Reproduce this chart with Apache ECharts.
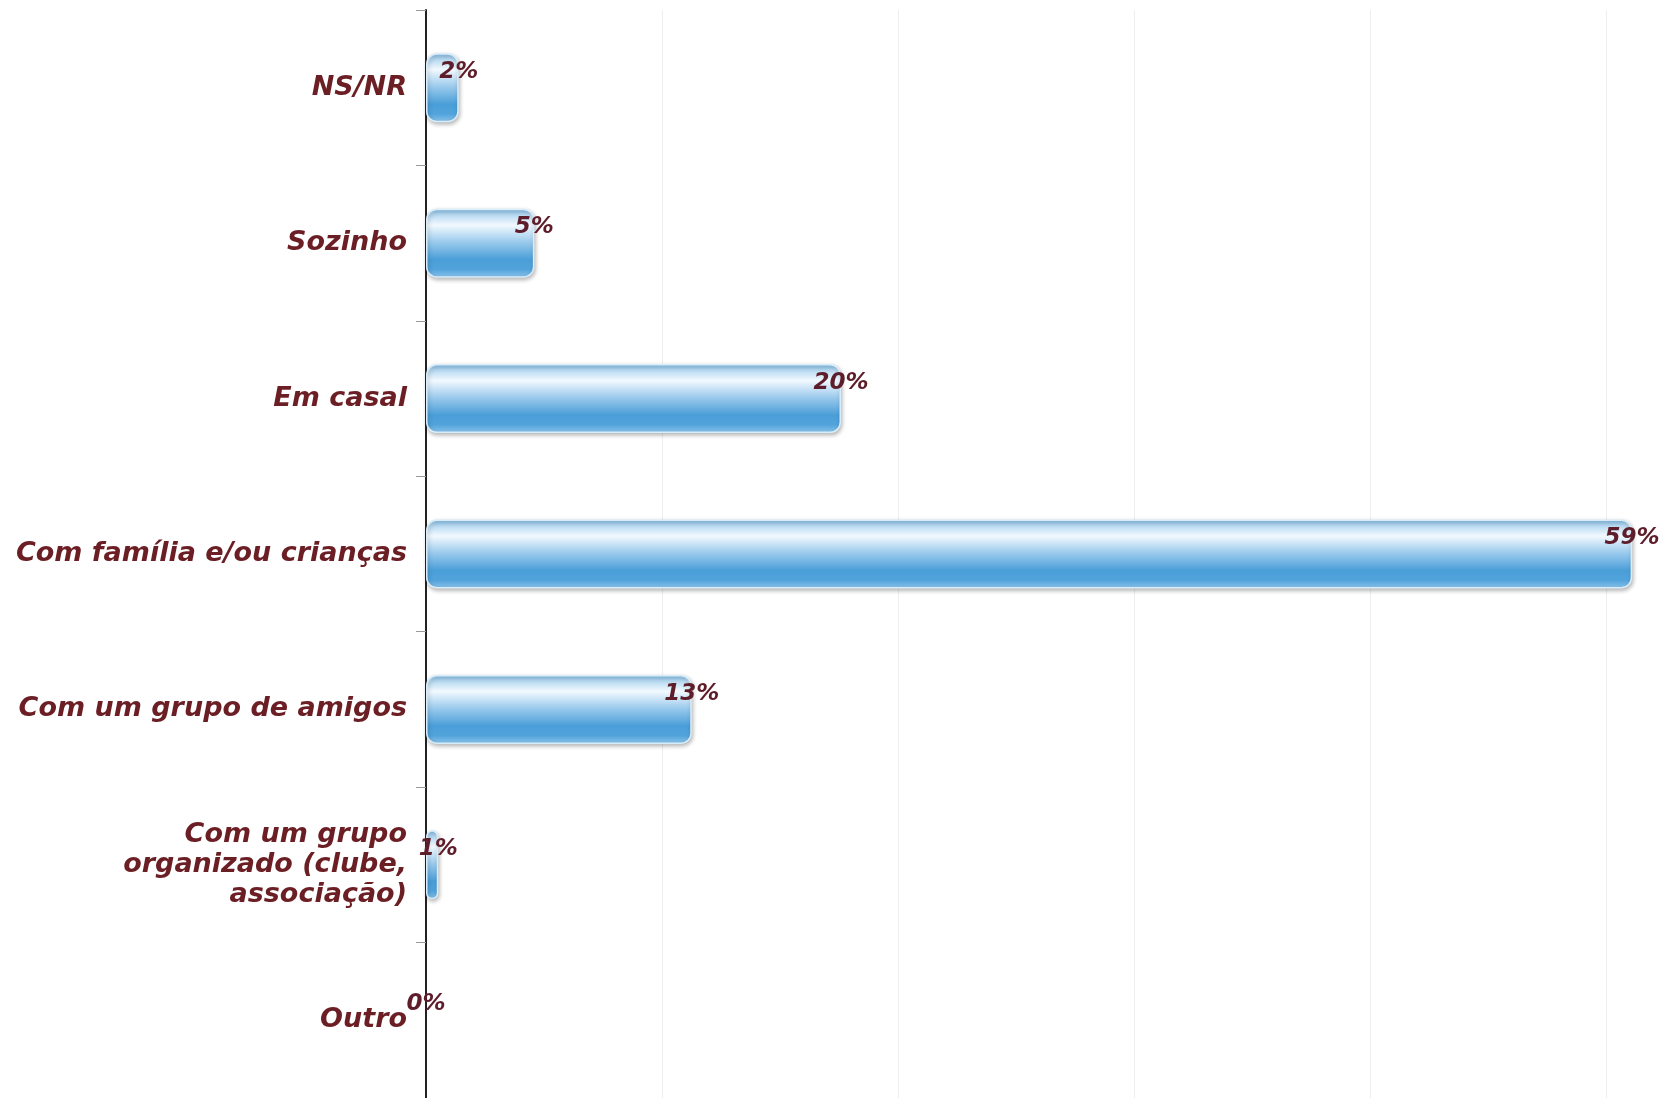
<!DOCTYPE html>
<html>
<head>
<meta charset="utf-8">
<script src="https://cdn.jsdelivr.net/npm/echarts@6/dist/echarts.min.js"></script>
<style>
html,body{margin:0;padding:0;background:#fff;}
#chart{width:1673px;height:1098px;}
</style>
</head>
<body>
<div id="chart"></div>
<script>
var categories = ['NS/NR', 'Sozinho', 'Em casal', 'Com família e/ou crianças', 'Com um grupo de amigos', 'Com um grupo\norganizado (clube,\nassociação)', 'Outro'];
var values = [1.6, 5.3, 20.3, 59, 13, 0.6, 0];
var gridTicks = [0, 11.55, 23.1, 34.65, 46.2, 57.75];

var textColor = '#6b1e24';
var chart = echarts.init(document.getElementById('chart'));
var seriesData = values.map(function (v) {
  return v === 0
    ? { value: v, itemStyle: { color: 'rgba(0,0,0,0)', borderColor: 'rgba(0,0,0,0)', borderWidth: 0, shadowBlur: 0, shadowColor: 'rgba(0,0,0,0)' } }
    : { value: v };
});
chart.setOption({
  backgroundColor: '#ffffff',
  animation: false,
  grid: { left: 426, top: 10, right: 0, height: 1089, containLabel: false },
  xAxis: {
    type: 'value', min: gridTicks[0], max: 61, interval: gridTicks[1] - gridTicks[0],
    axisLine: { show: false }, axisTick: { show: false }, axisLabel: { show: false },
    splitLine: { show: true, lineStyle: { color: '#eeeeee', width: 1 } }
  },
  yAxis: {
    type: 'category', inverse: true, data: categories,
    axisLine: { show: true, lineStyle: { color: '#222222', width: 2 } },
    axisTick: { show: true, length: 10, lineStyle: { color: '#999999', width: 1 } },
    splitLine: { show: false },
    axisLabel: {
      margin: 19, color: textColor, fontFamily: 'DejaVu Sans', fontStyle: 'italic',
      fontWeight: 'bold', fontSize: 27, lineHeight: 30, align: 'right'
    }
  },
  series: [{
    type: 'bar', data: seriesData, barWidth: 69,
    itemStyle: {
      borderRadius: 10,
      borderColor: '#d8ecfa', borderWidth: 1.5,
      shadowColor: 'rgba(0,0,0,0.28)', shadowBlur: 4, shadowOffsetX: 1, shadowOffsetY: 2,
      color: new echarts.graphic.LinearGradient(0, 0, 0, 1, [
        { offset: 0, color: '#7ab5e0' },
        { offset: 0.08, color: '#b4d8f2' },
        { offset: 0.24, color: '#f2f9fe' },
        { offset: 0.48, color: '#9ccbed' },
        { offset: 0.74, color: '#4a9ed8' },
        { offset: 0.88, color: '#52a3db' },
        { offset: 1, color: '#8cc5ec' }
      ])
    },
    label: {
      show: true, position: ['100%', '27%'], align: 'center', verticalAlign: 'middle',
      color: '#5e1d2a', fontFamily: 'DejaVu Sans', fontStyle: 'italic', fontWeight: 'bold', fontSize: 23,
      formatter: function (p) { return Math.round(p.value) + '%'; }
    }
  }]
});
</script>
</body>
</html>
